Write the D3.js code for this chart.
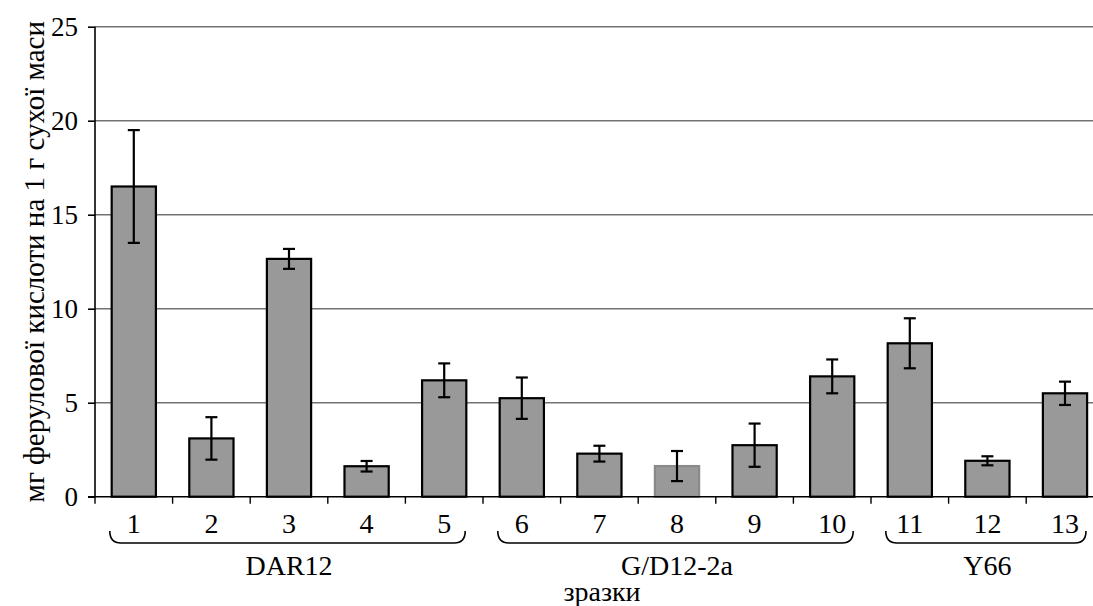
<!DOCTYPE html>
<html>
<head>
<meta charset="utf-8">
<script src="https://cdn.jsdelivr.net/npm/d3@7"></script>
<style>
  html, body { margin: 0; padding: 0; background: #fff; }
  svg { display: block; }
  svg text { font-family: "Liberation Serif", "Times New Roman", Tinos, "DejaVu Serif", serif !important; fill: #000; }
</style>
</head>
<body>
<svg id="chart" width="1093" height="606" font-family="Liberation Serif"></svg>
<script>
const categories = ["1","2","3","4","5","6","7","8","9","10","11","12","13"];
const values = [16.5, 3.1, 12.65, 1.62, 6.19, 5.24, 2.29, 1.63, 2.74, 6.4, 8.16, 1.91, 5.5];
const errors = [3.0, 1.13, 0.53, 0.28, 0.9, 1.1, 0.42, 0.8, 1.15, 0.9, 1.33, 0.24, 0.62];
const groupNames = ["DAR12", "G/D12-2a", "Y66"];
const groupFirst = ["1", "6", "11"];
const groupLast = ["5", "10", "13"];
const yTicks = [0, 5, 10, 15, 20, 25];
const yTitle = "мг ферулової кислоти на 1 г сухої маси";
const xTitle = "зразки";

const svg = d3.select("#chart");
const W = 1093;
const left = 95, step = 77.6;
const x = d3.scaleBand().domain(categories)
  .range([left, left + step * categories.length])
  .paddingInner(0.43).paddingOuter(0.215);
const y = d3.scaleLinear().domain([0, 25]).range([496.7, 26.7]);
const FS = "28px";

// gridlines
svg.append("g").selectAll("line").data(yTicks.filter(d => d > 0)).join("line")
  .attr("x1", left).attr("x2", W)
  .attr("y1", d => y(d)).attr("y2", d => y(d))
  .attr("stroke", "#737373").attr("stroke-width", 1.6);

// y axis
const yAxis = d3.axisLeft(y).tickValues(yTicks).tickSize(7).tickPadding(10).tickFormat(d3.format("d"));
const gy = svg.append("g").attr("transform", `translate(${left},0)`).call(yAxis)
  .attr("font-family", "Liberation Serif");
gy.select(".domain").attr("stroke", "#000").attr("stroke-width", 1.6).attr("d", `M0,${y(25)}V${y(0)}`);
gy.selectAll(".tick line").attr("stroke", "#000").attr("stroke-width", 1.6);
gy.selectAll(".tick text").attr("font-family", "Liberation Serif").style("font-size", "27px").attr("dy", "0.34em");

// bars
svg.append("g").selectAll("rect").data(categories).join("rect")
  .attr("x", d => x(d)).attr("width", x.bandwidth())
  .attr("y", (d, i) => y(values[i])).attr("height", (d, i) => y(0) - y(values[i]))
  .attr("fill", "#999999")
  .attr("stroke", (d, i) => i === 7 ? "#8a8a8a" : "#000")
  .attr("stroke-width", 2.2);

// x axis
const xAxis = d3.axisBottom(x).tickSize(0).tickPadding(0);
const gx = svg.append("g").attr("transform", `translate(0,${y(0)})`).call(xAxis)
  .attr("font-family", "Liberation Serif");
gx.select(".domain").attr("stroke", "#000").attr("stroke-width", 1.6).attr("d", `M${left - 7},0H${W}`);
gx.selectAll(".tick text").attr("font-family", "Liberation Serif").style("font-size", FS)
  .attr("y", 36).attr("dy", 0);
// tick marks at band boundaries
svg.append("g").selectAll("line").data(categories).join("line")
  .attr("x1", d => x(d) - x.step() * x.paddingOuter()).attr("x2", d => x(d) - x.step() * x.paddingOuter())
  .attr("y1", y(0)).attr("y2", y(0) + 7)
  .attr("stroke", "#000").attr("stroke-width", 1.4);

// error bars
const eg = svg.append("g").attr("stroke", "#000").attr("stroke-width", 2.2);
categories.forEach((c, i) => {
  const cx = x(c) + x.bandwidth() / 2;
  const hi = y(values[i] + errors[i]), lo = y(values[i] - errors[i]);
  eg.append("line").attr("x1", cx).attr("x2", cx).attr("y1", hi).attr("y2", lo);
  eg.append("line").attr("x1", cx - 6).attr("x2", cx + 6).attr("y1", hi).attr("y2", hi);
  eg.append("line").attr("x1", cx - 6).attr("x2", cx + 6).attr("y1", lo).attr("y2", lo);
});

// group braces and labels
const by = 543, btop = 531, r = 11;
groupNames.forEach((g, k) => {
  const c0 = x(groupFirst[k]) + x.bandwidth() / 2;
  const c1 = x(groupLast[k]) + x.bandwidth() / 2;
  const x0 = c0 - 24, x1 = c1 + 21;
  svg.append("path")
    .attr("d", `M${x0},${btop}Q${x0},${by} ${x0 + r},${by}L${x1 - r},${by}Q${x1},${by} ${x1},${btop}`)
    .attr("fill", "none").attr("stroke", "#000").attr("stroke-width", 1.6);
  svg.append("text").attr("x", (c0 + c1) / 2).attr("y", 575)
    .attr("text-anchor", "middle").attr("font-family", "Liberation Serif").style("font-size", FS).text(g);
});

svg.append("text").attr("x", 602).attr("y", 601).attr("text-anchor", "middle")
  .attr("font-family", "Liberation Serif").style("font-size", FS).text(xTitle);

svg.append("text").attr("transform", `translate(44,${(y(0) + y(25)) / 2}) rotate(-90)`)
  .attr("text-anchor", "middle").attr("font-family", "Liberation Serif").style("font-size", "29px").text(yTitle);
</script>
</body>
</html>
